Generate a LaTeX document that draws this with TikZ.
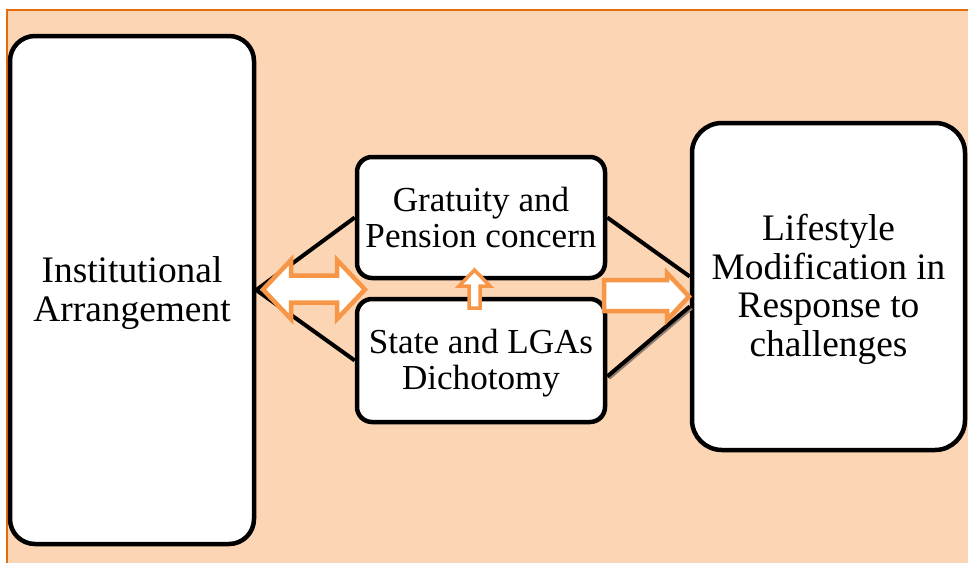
\documentclass[tikz,border=0pt]{standalone}
\usepackage{fontspec}
\setmainfont{Liberation Serif}
\definecolor{peach}{HTML}{FCD5B4}
\definecolor{frameorange}{HTML}{E46C0A}
\definecolor{arroworange}{HTML}{F79646}
\definecolor{lineshadow}{HTML}{8C7B6E}
\begin{document}
\begin{tikzpicture}[x=1pt,y=-1pt,
  box/.style={draw=black, line width=4.5pt, fill=white, inner sep=0pt},
  boxtext/.style={align=center, inner sep=0pt},
  link/.style={draw=black, line width=4pt},
  blockarrow/.style={draw=arroworange, fill=white, line width=4.5pt, line join=miter},
  bigtext/.style={font=\fontsize{37.4}{38.5}\selectfont},
  midtext/.style={font=\fontsize{35.1}{36}\selectfont}]
\useasboundingbox (0,0) rectangle (968,562);
% page background with its orange frame line
\fill[peach] (7,10) rectangle (985,580);
\draw[frameorange, line width=1.5pt] (7,580) -- (7,10) -- (985,10);

% boxes
\node[box, minimum width=244pt, minimum height=508pt, rounded corners=25pt]
  (inst) at (132,290) {};
\node[box, minimum width=248pt, minimum height=121pt, rounded corners=15pt]
  (grat) at (481,217.5) {};
\node[box, minimum width=248pt, minimum height=123pt, rounded corners=15pt]
  (state) at (481,360.5) {};
\node[box, minimum width=273pt, minimum height=327pt, rounded corners=30pt]
  (life) at (828.5,286.5) {};

% box texts
\node[boxtext, bigtext] (inst-t) at ([yshift=-3pt]inst.center) {Institutional\\Arrangement};
\node[boxtext, midtext] (grat-t) at ([yshift=0pt]grat.center) {Gratuity and\\Pension concern};
\node[boxtext, midtext] (state-t) at ([yshift=-2.5pt]state.center) {State and LGAs\\Dichotomy};
\node[boxtext, bigtext] (life-t) at ([yshift=-3pt]life.center) {Lifestyle\\Modification in\\Response to\\challenges};

% connectors
\coordinate (rtop) at ([yshift=10pt]life.west);
\coordinate (rbot) at ([yshift=-20pt]life.west);
\draw[link] (inst.east) -- (grat.west);
\draw[link] (inst.east) -- (state.west);
\draw[link] (grat.east) -- (rtop);
\draw[line width=4pt, lineshadow] ([xshift=1.5pt,yshift=-17.5pt]state.east) -- ([xshift=1.5pt,yshift=-1.5pt]rbot);
\draw[link] ([yshift=-16pt]state.east) -- (rbot);

% block arrows
\draw[blockarrow] (263,289.5) -- (291,260) -- (291,275.5) -- (337,275.5) -- (337,260)
  -- (365,289.5) -- (337,319) -- (337,302.5) -- (291,302.5) -- (291,319) -- cycle;
\draw[blockarrow, line width=3.5pt] (474.5,270) -- (490,286) -- (480,286) -- (480,308)
  -- (469,308) -- (469,286) -- (459,286) -- cycle;
\draw[blockarrow] (604,280) -- (667,280) -- (667,273) -- (689,296.5) -- (667,320)
  -- (667,311) -- (604,311) -- cycle;
\end{tikzpicture}
\end{document}
